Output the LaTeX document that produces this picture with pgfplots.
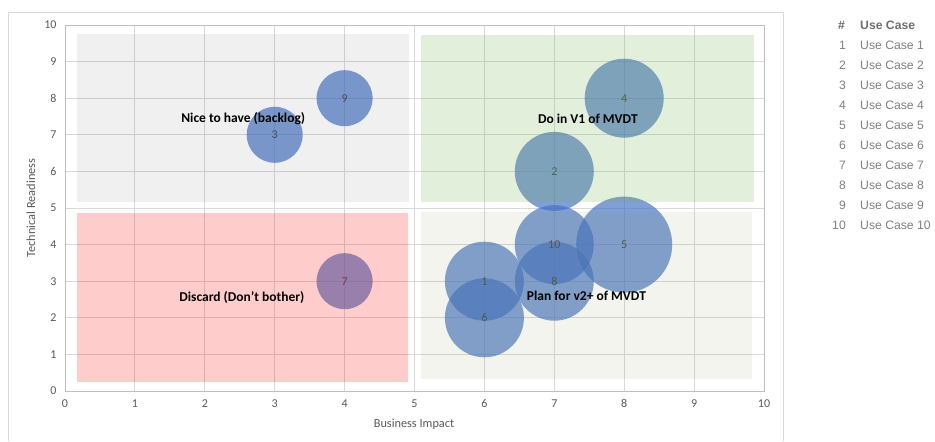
\documentclass[border=0pt]{standalone}
\usepackage{pgfplots}
\pgfplotsset{compat=1.18}
\usepackage{fontspec}
\setmainfont{Carlito}
\newfontfamily\legendfont{Liberation Sans}
\definecolor{bubble}{HTML}{4472C4}
\definecolor{labelgray}{HTML}{595959}
\definecolor{numgray}{HTML}{505050}
\definecolor{gridgray}{HTML}{D9D9D9}
\definecolor{axisgray}{HTML}{BFBFBF}
\definecolor{legrow}{HTML}{808080}
\definecolor{leghead}{HTML}{6E6E6E}
\definecolor{qgreen}{HTML}{70AD47}
\definecolor{qolive}{RGB}{125,145,75}
\begin{document}
\begin{tikzpicture}
\path (0pt,0pt) rectangle (935pt,441pt);
\draw[gridgray, line width=0.8pt] (8pt,0pt) -- (8pt,429pt) -- (783pt,429pt) -- (783pt,0pt);
\begin{axis}[
  set layers=standard,
  at={(65pt,50pt)}, anchor=south west,
  scale only axis, width=699pt, height=366pt,
  xmin=0, xmax=10, ymin=0, ymax=10,
  xtick={0,1,...,10}, ytick={0,1,...,10},
  grid=major,
  major grid style={draw=gridgray, line width=0.9pt},
  axis line style={draw=axisgray, line width=0.9pt},
  major tick length=0pt,
  /pgf/number format/assume math mode=true,
  ticklabel style={font=\fontsize{12}{13}\selectfont, text=labelgray},
  xticklabel shift=5pt,
  yticklabel shift=5pt,
  clip=false,
]
% bubbles
\addplot[only marks, mark=*, mark size=28pt, color=bubble, mark options={draw opacity=0, fill=bubble, fill opacity=0.68}]
  table {x y
3 7
4 8
4 3
};
\addplot[only marks, mark=*, mark size=39.5pt, color=bubble, mark options={draw opacity=0, fill=bubble, fill opacity=0.68}]
  table {x y
6 3
7 6
8 8
6 2
7 3
7 4
};
\addplot[only marks, mark=*, mark size=48pt, color=bubble, mark options={draw opacity=0, fill=bubble, fill opacity=0.68}]
  table {x y
8 4
};
% bubble labels
\addplot[draw=none, mark=none, point meta=explicit symbolic, nodes near coords,
  every node near coord/.append style={anchor=center, font=\fontsize{12}{13}\selectfont, text=numgray}]
  table[meta=lab] {x y lab
6 3 1
7 6 2
3 7 3
8 8 4
8 4 5
6 2 6
4 3 7
7 3 8
4 8 9
7 4 10
};
\begin{pgfonlayer}{axis foreground}
% quadrant shapes
\fill[black, fill opacity=0.06] (axis cs:0.17,5.16) rectangle (axis cs:4.92,9.75);
\fill[red, fill opacity=0.2] (axis cs:0.17,0.25) rectangle (axis cs:4.9,4.86);
\fill[qgreen, fill opacity=0.2] (axis cs:5.1,5.16) rectangle (axis cs:9.85,9.73);
\fill[qolive, fill opacity=0.1] (axis cs:5.09,0.33) rectangle (axis cs:9.83,4.89);
% quadrant labels
\node[font=\bfseries\fontsize{13.5}{14}\selectfont] at (axis cs:2.55,7.43) {Nice to have (backlog)};
\node[font=\bfseries\fontsize{13.5}{14}\selectfont] at (axis cs:7.48,7.45) {Do in V1 of MVDT};
\node[font=\bfseries\fontsize{13.5}{14}\selectfont] at (axis cs:2.53,2.55) {Discard (Don't bother)};
\node[font=\bfseries\fontsize{13.5}{14}\selectfont] at (axis cs:7.46,2.6) {Plan for v2+ of MVDT};
\end{pgfonlayer}
\end{axis}
% axis titles
\node[font=\fontsize{12.3}{13}\selectfont, text=labelgray] at (414pt,17pt) {Business Impact};
\node[font=\fontsize{12.3}{13}\selectfont, text=labelgray, rotate=90] at (31pt,233pt) {Technical Readiness};
% legend table
\node[font=\legendfont\bfseries\fontsize{12.2}{13}\selectfont, text=leghead, anchor=east, inner sep=0pt] at (845pt,416pt) {\#};
\node[font=\legendfont\bfseries\fontsize{12.2}{13}\selectfont, text=leghead, anchor=west, inner sep=0pt] at (860pt,416pt) {Use Case};
\foreach \k in {1,...,10} {
  \pgfmathsetmacro{\yy}{396-(\k-1)*20}
  \node[font=\legendfont\fontsize{12.2}{13}\selectfont, text=legrow, anchor=east, inner sep=0pt] at (846pt,\yy pt) {\k};
  \node[font=\legendfont\fontsize{12.2}{13}\selectfont, text=legrow, anchor=west, inner sep=0pt] at (860pt,\yy pt) {Use Case \k};
}
\end{tikzpicture}
\end{document}
